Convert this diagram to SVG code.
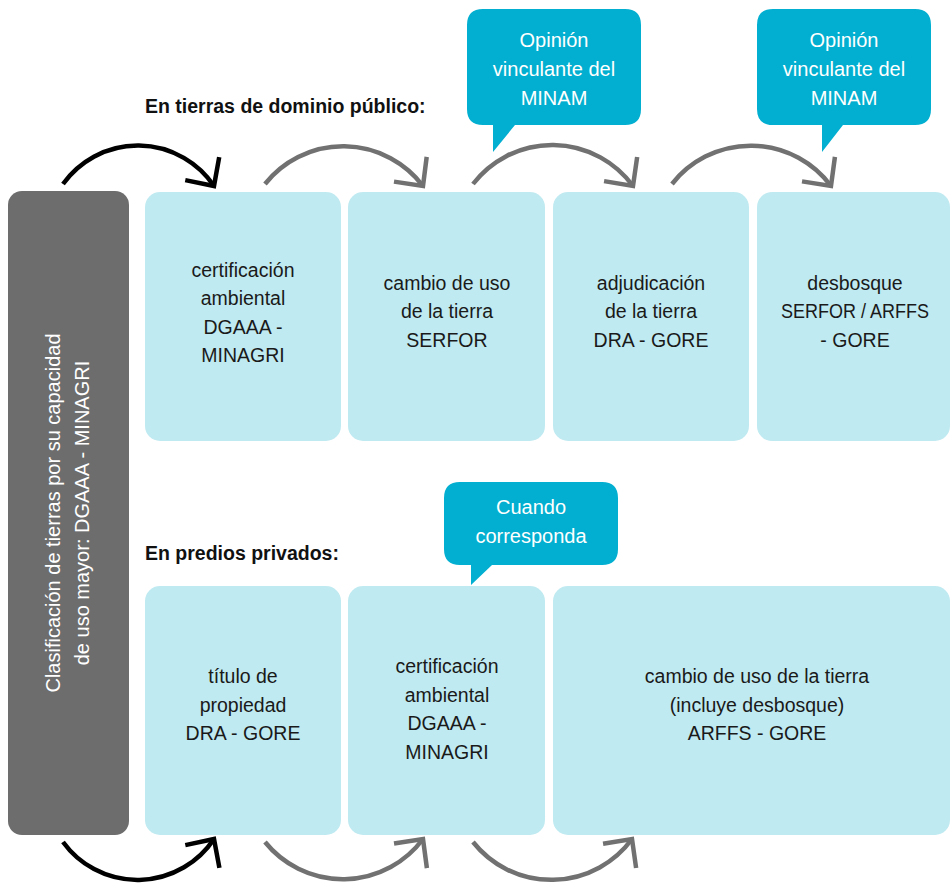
<svg xmlns="http://www.w3.org/2000/svg" width="950" height="884" viewBox="0 0 950 884">
<defs>
<style>
.box{fill:#c0eaf1}
.side{fill:#6d6d6d}
.call{fill:#02afd0}
.t{font-family:"Liberation Sans",Arial,sans-serif;font-size:19.5px;fill:#1a1a1a;text-anchor:middle}
.w{font-family:"Liberation Sans",Arial,sans-serif;font-size:20px;fill:#ffffff;text-anchor:middle}
.h{font-family:"Liberation Sans",Arial,sans-serif;font-size:19.5px;font-weight:bold;fill:#111111}
.arcK{fill:none;stroke:#000000;stroke-width:4.5;marker-end:url(#headK)}
.arcG{fill:none;stroke:#717171;stroke-width:4.5;marker-end:url(#headG)}
</style>
<marker id="headK" markerUnits="userSpaceOnUse" orient="auto" refX="0" refY="0" markerWidth="60" markerHeight="60" viewBox="-30 -30 60 60" overflow="visible">
<path d="M-21,-20.5 L0,0 L-21,20.5" fill="none" stroke="#000000" stroke-width="4.5"/>
</marker>
<marker id="headG" markerUnits="userSpaceOnUse" orient="auto" refX="0" refY="0" markerWidth="60" markerHeight="60" viewBox="-30 -30 60 60" overflow="visible">
<path d="M-21,-20.5 L0,0 L-21,20.5" fill="none" stroke="#717171" stroke-width="4.5"/>
</marker>
</defs>
<rect width="950" height="884" fill="#ffffff"/>

<text class="h" x="145" y="113">En tierras de dominio público:</text>
<text class="h" x="145" y="560">En predios privados:</text>

<g id="clasificacion">
<rect class="side" x="8" y="191" width="121" height="644" rx="14"/>
<text class="w" transform="translate(60,513) rotate(-90)"><tspan x="0" y="0">Clasificación de tierras por su capacidad</tspan><tspan x="0" y="29">de uso mayor: DGAAA - MINAGRI</tspan></text>
</g>

<g id="certificacion-publica">
<rect class="box" x="145" y="192" width="196" height="249" rx="15"/>
<text class="t"><tspan x="243" y="277">certificación</tspan><tspan x="243" y="305">ambiental</tspan><tspan x="243" y="334">DGAAA -</tspan><tspan x="243" y="362">MINAGRI</tspan></text>
</g>
<g id="cambio-uso-publica">
<rect class="box" x="348" y="192" width="197" height="249" rx="15"/>
<text class="t"><tspan x="447" y="290">cambio de uso</tspan><tspan x="447" y="318">de la tierra</tspan><tspan x="447" y="347">SERFOR</tspan></text>
</g>
<g id="adjudicacion">
<rect class="box" x="553" y="192" width="196" height="249" rx="15"/>
<text class="t"><tspan x="651" y="290">adjudicación</tspan><tspan x="651" y="318">de la tierra</tspan><tspan x="651" y="347">DRA - GORE</tspan></text>
</g>
<g id="desbosque">
<rect class="box" x="757" y="192" width="193" height="249" rx="15"/>
<text class="t"><tspan x="855" y="290">desbosque</tspan><tspan x="855" y="318" textLength="148" lengthAdjust="spacingAndGlyphs">SERFOR / ARFFS</tspan><tspan x="855" y="347">- GORE</tspan></text>
</g>

<g id="titulo">
<rect class="box" x="145" y="586" width="196" height="249" rx="15"/>
<text class="t"><tspan x="243" y="683">título de</tspan><tspan x="243" y="712">propiedad</tspan><tspan x="243" y="740">DRA - GORE</tspan></text>
</g>
<g id="certificacion-privada">
<rect class="box" x="348" y="586" width="197" height="249" rx="15"/>
<text class="t"><tspan x="447" y="673">certificación</tspan><tspan x="447" y="702">ambiental</tspan><tspan x="447" y="730">DGAAA -</tspan><tspan x="447" y="759">MINAGRI</tspan></text>
</g>
<g id="cambio-uso-privada">
<rect class="box" x="553" y="586" width="397" height="249" rx="15"/>
<text class="t"><tspan x="757" y="683">cambio de uso de la tierra</tspan><tspan x="757" y="712">(incluye desbosque)</tspan><tspan x="757" y="740">ARFFS - GORE</tspan></text>
</g>

<g id="callout-minam-1">
<path class="call" d="M483,9 H625 Q641,9 641,25 V109 Q641,125 625,125 H515 L493,152 V125 H483 Q467,125 467,109 V25 Q467,9 483,9 Z"/>
<text class="w"><tspan x="554" y="47">Opinión</tspan><tspan x="554" y="76">vinculante del</tspan><tspan x="554" y="105">MINAM</tspan></text>
</g>
<g id="callout-minam-2">
<path class="call" d="M773,9 H915 Q931,9 931,25 V109 Q931,125 915,125 H843 L822,152 V125 H773 Q757,125 757,109 V25 Q757,9 773,9 Z"/>
<text class="w"><tspan x="844" y="47">Opinión</tspan><tspan x="844" y="76">vinculante del</tspan><tspan x="844" y="105">MINAM</tspan></text>
</g>
<g id="callout-cuando">
<path class="call" d="M460,482 H602 Q618,482 618,498 V549 Q618,565 602,565 H492 L471,585 V565 H460 Q444,565 444,549 V498 Q444,482 460,482 Z"/>
<text class="w"><tspan x="531" y="514">Cuando</tspan><tspan x="531" y="543">corresponda</tspan></text>
</g>

<g id="connectors">
<path class="arcK" d="M63,184 A92,92 0 0 1 214,186"/>
<path class="arcG" d="M265,184 A100,100 0 0 1 423,186"/>
<path class="arcG" d="M473,184 A100,100 0 0 1 633,186"/>
<path class="arcG" d="M672,184 A100,100 0 0 1 831,186"/>
<path class="arcK" d="M63,842 A92,92 0 0 0 214,839"/>
<path class="arcG" d="M265,842 A100,100 0 0 0 423,839"/>
<path class="arcG" d="M473,842 A100,100 0 0 0 632,839"/>
</g>
</svg>
